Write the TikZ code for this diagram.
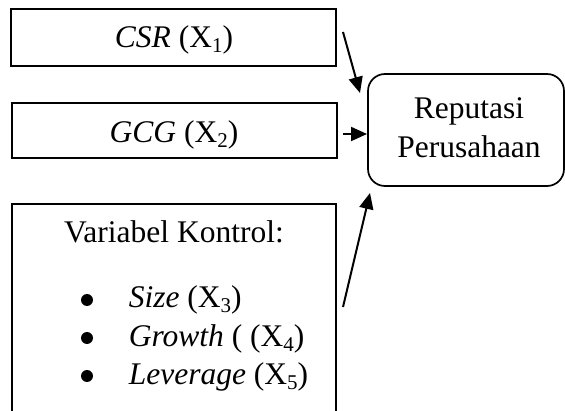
\documentclass[tikz,border=0pt]{standalone}
\usepackage{fontspec}
\setmainfont{Liberation Serif}
\usetikzlibrary{arrows.meta}
\newcommand{\sub}[1]{\raisebox{-4.5pt}{\fontsize{21}{21}\selectfont #1}}
\begin{document}
\begin{tikzpicture}[x=1pt,y=-1pt,
  line width=1.7pt,
  txt/.style={font=\fontsize{31.5}{37}\selectfont, inner sep=0pt},
  item/.style={txt, anchor=base west},
  dot/.style={circle, fill=black, inner sep=0pt, minimum size=12pt},
  arr/.style={-{Triangle[length=16pt,width=14pt]}, line width=2pt}]
\useasboundingbox (0,0) rectangle (565,411);
% independent variable boxes
\draw (11,9) rectangle (336,66);
\node[txt, anchor=base] (csr) at (174,48) {\textit{CSR} (X\sub{1})};
\draw (12,103) rectangle (337,158);
\node[txt, anchor=base] (gcg) at (174,143) {\textit{GCG} (X\sub{2})};
% control variables box, open at the bottom
\draw (12,411) -- (12,204) -- (336,204) -- (336,411);
\node[txt, anchor=base] (ctl) at (174,243) {Variabel Kontrol:};
\node[dot] (d1) at (87,300) {};
\node[dot] (d2) at (87,338) {};
\node[dot] (d3) at (87,376) {};
\node[item] (b1) at (128,308) {\textit{Size} (X\sub{3})};
\node[item] (b2) at (128,347) {\textit{Growth} ( (X\sub{4})};
\node[item] (b3) at (128,385) {\textit{Leverage} (X\sub{5})};
% dependent variable
\draw[rounded corners=17pt] (368,74) rectangle (564,186);
\node[txt, anchor=base] (rep1) at (469,119) {Reputasi};
\node[txt, anchor=base] (rep2) at (469,158) {Perusahaan};
% connectors
\coordinate (a1) at (343,32);
\coordinate (e1) at (360,93);
\coordinate (a2) at (343,134);
\coordinate (e2) at (367,134);
\coordinate (a3) at (343,307);
\coordinate (e3) at (370,193);
\draw[arr] (a1) -- (e1);
\draw[arr] (a2) -- (e2);
\draw[arr] (a3) -- (e3);
\end{tikzpicture}
\end{document}
